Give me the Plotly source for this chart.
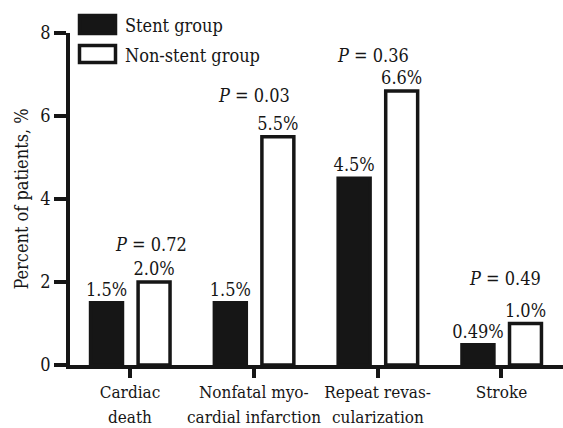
import plotly.graph_objects as go

# ---- data ----
categories = ["Cardiac death", "Nonfatal myocardial infarction", "Repeat revascularization", "Stroke"]
tick_line1 = ["Cardiac", "Nonfatal myo-", "Repeat revas-", "Stroke"]
tick_line2 = ["death", "cardial infarction", "cularization", ""]
stent = [1.5, 1.5, 4.5, 0.49]
non_stent = [2.0, 5.5, 6.6, 1.0]
p_values = ["0.72", "0.03", "0.36", "0.49"]
y_ticks = [0, 2, 4, 6, 8]

# ---- style ----
W, H = 563, 428
ML, MR, MT, MB = 70, 0, 33, 63
FONT = "DejaVu Serif Condensed, DejaVu Serif"
INK = "#161616"
FS = 18
FS_CAT = 17
LW = 3.5

x_idx = list(range(len(categories)))

fig = go.Figure()
fig.add_trace(go.Bar(
    name="Stent group", x=x_idx, y=stent,
    width=0.258, offset=-0.319,
    marker=dict(color=INK, line=dict(color=INK, width=LW)),
    text=[f"{v}%" for v in stent], textposition="outside",
    constraintext="none", cliponaxis=False,
    textfont=dict(family=FONT, size=FS, color=INK),
))
fig.add_trace(go.Bar(
    name="Non-stent group", x=x_idx, y=non_stent,
    width=0.258, offset=0.065,
    marker=dict(color="white", line=dict(color=INK, width=LW)),
    text=[f"{v}%" for v in non_stent], textposition="outside",
    constraintext="none", cliponaxis=False,
    textfont=dict(family=FONT, size=FS, color=INK),
))

p_xshift = [21, 0, -5, 4]
p_yshift = [25, 29, 23, 33]
for i, p in enumerate(p_values):
    fig.add_annotation(
        x=i, y=max(stent[i], non_stent[i]), xref="x", yref="y",
        text=f"<i>P</i> = {p}", showarrow=False,
        xanchor="center", yanchor="bottom",
        xshift=p_xshift[i], yshift=p_yshift[i],
        font=dict(family=FONT, size=FS, color=INK),
    )

pw, ph = W - ML - MR, H - MT - MB
def px_x(p):
    return (p - ML) / pw
def px_y(p):
    return (H - MB - p) / ph

for i, t in enumerate(tick_line2):
    if t:
        fig.add_annotation(x=i, xref="x", yref="paper", y=px_y(417),
                           text=t, showarrow=False, xanchor="center", yanchor="middle",
                           font=dict(family=FONT, size=FS_CAT, color=INK))

legend_items = [("Stent group", INK, 15.5, 33.5, 25.9),
                ("Non-stent group", "white", 45.5, 62.5, 55.9)]
for label, fill, y0, y1, yc in legend_items:
    fig.add_shape(type="rect", xref="paper", yref="paper",
                  x0=px_x(79.5), x1=px_x(115.5), y0=px_y(y1), y1=px_y(y0),
                  fillcolor=fill, line=dict(color=INK, width=LW))
    fig.add_annotation(xref="paper", yref="paper", x=px_x(123), y=px_y(yc),
                       text=label, showarrow=False, xanchor="left", yanchor="middle",
                       font=dict(family=FONT, size=FS, color=INK))

fig.update_layout(
    width=W, height=H,
    margin=dict(l=ML, r=MR, t=MT, b=MB, pad=0, autoexpand=False),
    paper_bgcolor="white", plot_bgcolor="white",
    showlegend=False, barmode="overlay",
    font=dict(family=FONT, size=FS, color=INK),
)
fig.update_xaxes(
    tickmode="array", tickvals=x_idx, ticktext=tick_line1,
    range=[-0.485, 3.497], tickangle=0, automargin=False,
    showline=True, linecolor=INK, linewidth=LW,
    ticks="outside", ticklen=9, tickwidth=LW, tickcolor=INK,
    showgrid=False, zeroline=False,
    tickfont=dict(family=FONT, size=FS_CAT, color=INK),
)
fig.update_yaxes(
    range=[0, 8], tickmode="array", tickvals=y_ticks, automargin=False,
    showline=True, linecolor=INK, linewidth=LW,
    ticks="outside", ticklen=12, tickwidth=LW, tickcolor=INK,
    showgrid=False, zeroline=False,
    tickfont=dict(family=FONT, size=FS, color=INK),
    title=dict(text="Percent of patients, %", font=dict(family=FONT, size=FS, color=INK), standoff=8),
)

fig.write_html("out.html")
